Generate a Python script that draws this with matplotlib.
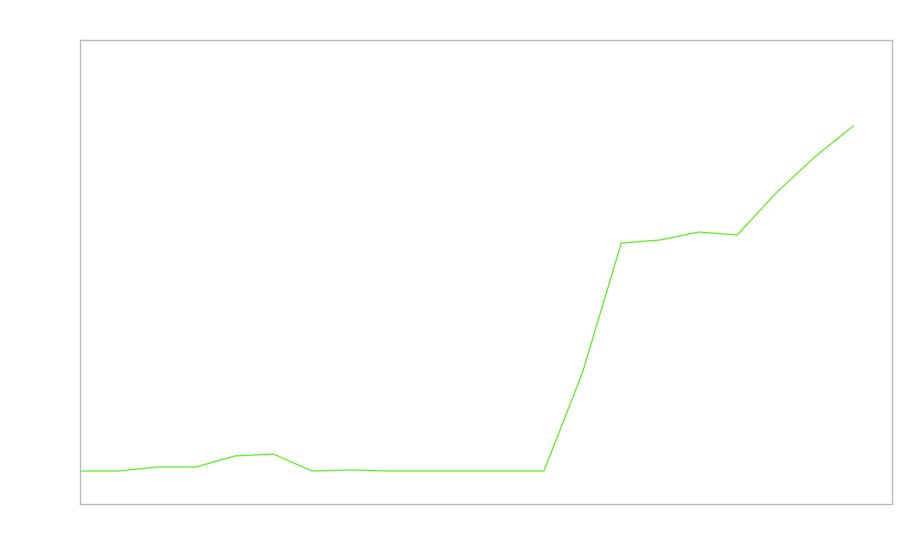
import matplotlib
matplotlib.use("Agg")
import matplotlib.pyplot as plt

# values (arbitrary units, baseline = 0)
steps = list(range(21))
values = [0, 0, 4, 4, 15, 17, 0, 1, 0, 0, 0, 0, 0, 99, 228, 231, 239, 236, 278, 314, 345]

fig = plt.figure(figsize=(9, 5.6), dpi=100)
ax = fig.add_axes([80 / 900, 56 / 560, 812 / 900, 464 / 560])

ax.plot(steps, values, color="#5bef1f", linewidth=0.9)

ax.set_xlim(0, 21)
ax.set_ylim(-33, 431)
ax.set_xticks([])
ax.set_yticks([])
for sp in ax.spines.values():
    sp.set_color("#bbbbbb")
    sp.set_linewidth(1)

fig.savefig("out.png", dpi=100)
